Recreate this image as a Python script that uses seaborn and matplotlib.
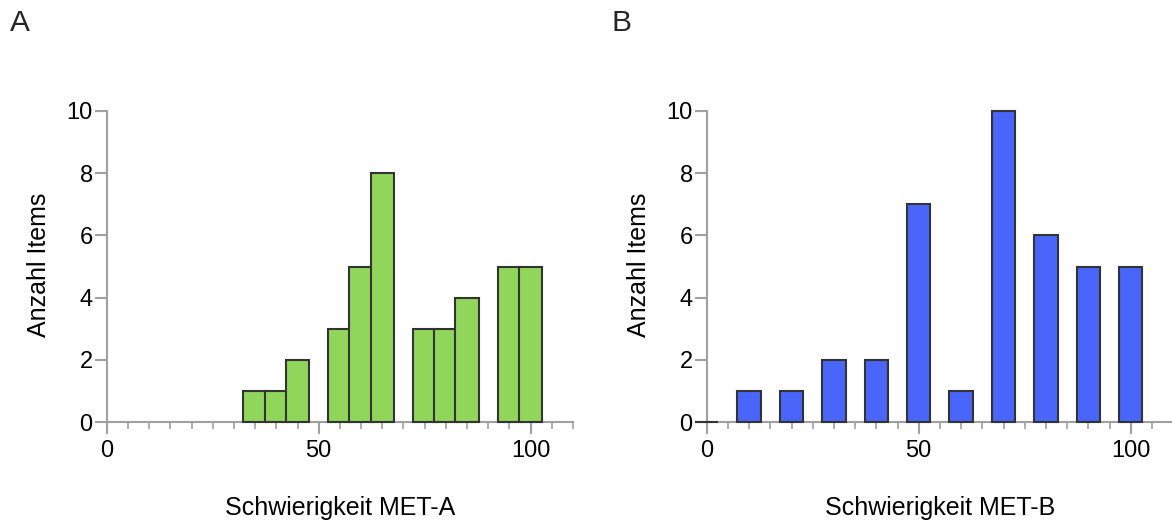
import matplotlib
matplotlib.use("Agg")
import matplotlib.pyplot as plt
from matplotlib.ticker import MultipleLocator, FixedLocator
import seaborn as sns
import pandas as pd

# ---- data ----
met_a_bins = [35, 40, 45, 55, 60, 65, 75, 80, 85, 95, 100]
met_a_counts = [1, 1, 2, 3, 5, 8, 3, 3, 4, 5, 5]
met_b_bins = [0, 10, 20, 30, 40, 50, 60, 70, 80, 90, 100]
met_b_counts = [0, 1, 1, 2, 2, 7, 1, 10, 6, 5, 5]
x_ticks = [0, 50, 100]
y_ticks = [0, 2, 4, 6, 8, 10]
panel_labels = ["A", "B"]
x_labels = ["Schwierigkeit MET-A", "Schwierigkeit MET-B"]
y_label = "Anzahl Items"
colors = ["#8fd65a", "#4a66fa"]

sns.set_theme(style="ticks")
plt.rcParams["font.family"] = ["Liberation Sans", "DejaVu Sans"]

W, H = 1172, 522
fig = plt.figure(figsize=(W / 100, H / 100), dpi=100)

axis_gray = "#a0a0a0"
edge = "#333333"

lefts = [106.7, 706.7]
for i, (bins, counts) in enumerate([(met_a_bins, met_a_counts), (met_b_bins, met_b_counts)]):
    ax = fig.add_axes([lefts[i] / W, (H - 422.3) / H, 466.4 / W, 311.6 / H])
    df = pd.DataFrame({"x": bins, "y": counts})
    spacing = min(b - a for a, b in zip(bins[:-1], bins[1:]))
    sns.barplot(data=df, x="x", y="y", native_scale=True, orient="x",
                width=5.5 / spacing, color=colors[i], saturation=1,
                edgecolor=edge, linewidth=1.5, errorbar=None, ax=ax, zorder=3)
    for p in ax.patches:
        p.set_clip_on(False)
    ax.set_xlim(0, 110)
    ax.set_ylim(0, 10)
    ax.xaxis.set_major_locator(FixedLocator(x_ticks))
    ax.xaxis.set_minor_locator(MultipleLocator(5))
    ax.yaxis.set_major_locator(FixedLocator(y_ticks))
    ax.set_xticklabels([str(t) for t in x_ticks])
    ax.set_yticklabels([str(t) for t in y_ticks])
    for s in ["top", "right"]:
        ax.spines[s].set_visible(False)
    for s in ["left", "bottom"]:
        ax.spines[s].set_color(axis_gray)
        ax.spines[s].set_linewidth(1.5)
        ax.spines[s].set_zorder(1)
    ax.tick_params(axis="x", which="major", length=8.6, width=1.5, color=axis_gray,
                   labelsize=17, pad=4.5, labelcolor="black")
    ax.tick_params(axis="x", which="minor", length=4.8, width=1.2, color=axis_gray)
    ax.tick_params(axis="y", which="major", length=8.6, width=1.5, color=axis_gray,
                   labelsize=17, pad=1.5, labelcolor="black")
    ax.set_xlabel(x_labels[i], fontsize=18, color="black", va="center")
    ax.xaxis.set_label_coords(0.5, -0.275)
    ax.set_ylabel(y_label, fontsize=18, color="black", va="center")
    ax.yaxis.set_label_coords(-0.146, 0.505)
    ax.set_facecolor("white")
    ax.grid(False)

fig.text(10 / W, 1 - 31 / H, panel_labels[0], fontsize=21.5, va="baseline", ha="left")
fig.text(611 / W, 1 - 31 / H, panel_labels[1], fontsize=21.5, va="baseline", ha="left")

fig.savefig("out.png", dpi=100, facecolor="white")
